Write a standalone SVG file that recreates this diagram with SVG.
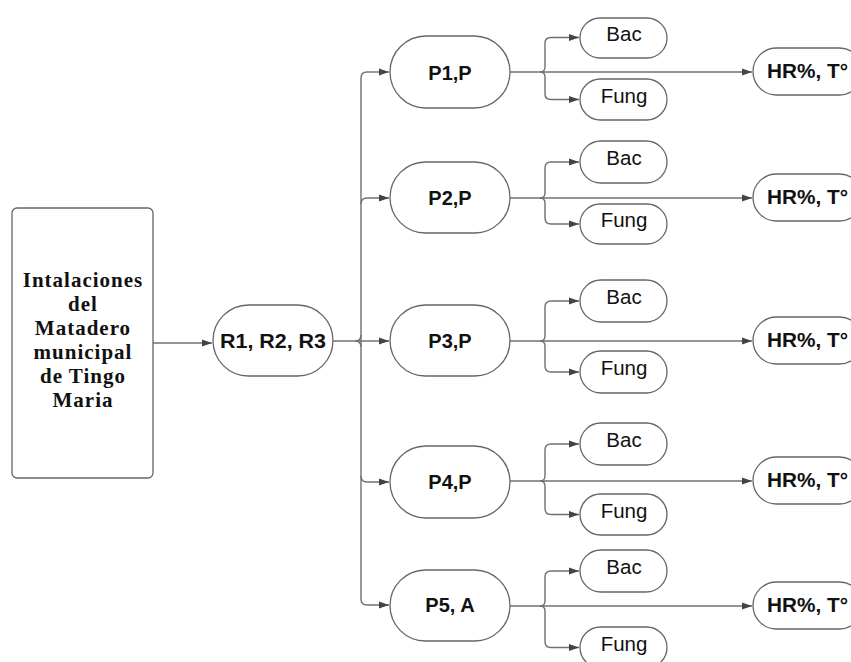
<svg xmlns="http://www.w3.org/2000/svg" width="851" height="662" viewBox="0 0 851 662">
<style>
.n{fill:#fff;stroke:#666;stroke-width:1.3}
.c{fill:none;stroke:#707070;stroke-width:1.4}
.b{font-family:"Liberation Sans",Arial,sans-serif;font-weight:bold;font-size:20px;fill:#111;text-anchor:middle}
.r{font-family:"Liberation Sans",Arial,sans-serif;font-size:20.5px;fill:#111;text-anchor:middle}
.s{font-family:"Liberation Serif","Times New Roman",serif;font-weight:bold;font-size:21px;letter-spacing:1px;fill:#111;text-anchor:middle}
</style>
<defs>
<marker id="a" markerUnits="userSpaceOnUse" markerWidth="11" markerHeight="8" refX="10" refY="4" orient="auto">
<path d="M0,0.5 L10,4 L0,7.5 z" fill="#444"/>
</marker>
</defs>
<g id="connectors">
<path class="c" d="M153,343 H212" marker-end="url(#a)"/>
<path class="c" d="M333,341 H389" marker-end="url(#a)"/>
<path class="c" d="M355,341 Q361,341 361,335 M355,341 Q361,341 361,347"/>
<path class="c" d="M367,72 H389" marker-end="url(#a)"/>
<path class="c" d="M367,72 Q361,72 361,78 V599 Q361,605 367,605 H389" marker-end="url(#a)"/>
<path class="c" d="M361,204 Q361,198 367,198 H389" marker-end="url(#a)"/>
<path class="c" d="M361,476 Q361,482 367,482 H389" marker-end="url(#a)"/>
<!-- row 1 -->
<path class="c" d="M510,72 H752" marker-end="url(#a)"/>
<path class="c" d="M540,72 Q545,72 545,67 V43 Q545,37.5 551,37.5 H579" marker-end="url(#a)"/>
<path class="c" d="M540,72 Q545,72 545,77 V94 Q545,99.5 551,99.5 H579" marker-end="url(#a)"/>
<!-- row 2 -->
<path class="c" d="M510,198 H752" marker-end="url(#a)"/>
<path class="c" d="M540,198 Q545,198 545,193 V168 Q545,162 551,162 H579" marker-end="url(#a)"/>
<path class="c" d="M540,198 Q545,198 545,203 V218 Q545,224 551,224 H579" marker-end="url(#a)"/>
<!-- row 3 -->
<path class="c" d="M510,341 H752" marker-end="url(#a)"/>
<path class="c" d="M540,341 Q545,341 545,336 V307 Q545,301 551,301 H579" marker-end="url(#a)"/>
<path class="c" d="M540,341 Q545,341 545,346 V366 Q545,372 551,372 H579" marker-end="url(#a)"/>
<!-- row 4 -->
<path class="c" d="M510,481 H752" marker-end="url(#a)"/>
<path class="c" d="M540,481 Q545,481 545,476 V450 Q545,444 551,444 H579" marker-end="url(#a)"/>
<path class="c" d="M540,481 Q545,481 545,486 V508.5 Q545,514.5 551,514.5 H579" marker-end="url(#a)"/>
<!-- row 5 -->
<path class="c" d="M510,606 H752" marker-end="url(#a)"/>
<path class="c" d="M540,606 Q545,606 545,601 V577 Q545,571 551,571 H579" marker-end="url(#a)"/>
<path class="c" d="M540,606 Q545,606 545,611 V641.5 Q545,647.5 551,647.5 H579" marker-end="url(#a)"/>
</g>
<g id="box">
<rect class="n" x="12" y="208" width="141" height="270" rx="5"/>
<text class="s" x="83" y="287">Intalaciones</text>
<text class="s" x="83" y="311">del</text>
<text class="s" x="83" y="335">Matadero</text>
<text class="s" x="83" y="359">municipal</text>
<text class="s" x="83" y="383">de Tingo</text>
<text class="s" x="83" y="407">Maria</text>
</g>
<g id="r">
<rect class="n" x="213" y="305" width="120" height="71" rx="35.5"/>
<text class="b" x="273" y="348" textLength="106" lengthAdjust="spacingAndGlyphs">R1, R2, R3</text>
</g>
<g id="p1">
<rect class="n" x="390" y="36" width="120" height="72" rx="36"/>
<text class="b" x="450" y="80">P1,P</text>
</g>
<g id="p2">
<rect class="n" x="390" y="162" width="120" height="71" rx="35.5"/>
<text class="b" x="450" y="205">P2,P</text>
</g>
<g id="p3">
<rect class="n" x="390" y="305" width="120" height="71" rx="35.5"/>
<text class="b" x="450" y="348">P3,P</text>
</g>
<g id="p4">
<rect class="n" x="390" y="446" width="120" height="72" rx="36"/>
<text class="b" x="450" y="489">P4,P</text>
</g>
<g id="p5">
<rect class="n" x="390" y="570" width="120" height="71" rx="35.5"/>
<text class="b" x="450" y="612">P5, A</text>
</g>
<g id="bac1"><rect class="n" x="580" y="18" width="87" height="40" rx="20"/><text class="r" x="624" y="41">Bac</text></g>
<g id="fung1"><rect class="n" x="580" y="79" width="87" height="41" rx="20.5"/><text class="r" x="624" y="103">Fung</text></g>
<g id="bac2"><rect class="n" x="580" y="141" width="87" height="42" rx="21"/><text class="r" x="624" y="165">Bac</text></g>
<g id="fung2"><rect class="n" x="580" y="204" width="87" height="40" rx="20"/><text class="r" x="624" y="227">Fung</text></g>
<g id="bac3"><rect class="n" x="580" y="280" width="87" height="42" rx="21"/><text class="r" x="624" y="304">Bac</text></g>
<g id="fung3"><rect class="n" x="580" y="351" width="87" height="42" rx="21"/><text class="r" x="624" y="375">Fung</text></g>
<g id="bac4"><rect class="n" x="580" y="423" width="87" height="42" rx="21"/><text class="r" x="624" y="447">Bac</text></g>
<g id="fung4"><rect class="n" x="580" y="494" width="87" height="41" rx="20.5"/><text class="r" x="624" y="518">Fung</text></g>
<g id="bac5"><rect class="n" x="580" y="550" width="87" height="42" rx="21"/><text class="r" x="624" y="574">Bac</text></g>
<g id="fung5"><rect class="n" x="580" y="627" width="87" height="41" rx="20.5"/><text class="r" x="624" y="651">Fung</text></g>
<g id="hr1"><rect class="n" x="753" y="48" width="110" height="47" rx="23.5"/><text class="b" x="767" y="78" style="text-anchor:start" textLength="81" lengthAdjust="spacingAndGlyphs">HR%, T°</text></g>
<g id="hr2"><rect class="n" x="753" y="174" width="110" height="47" rx="23.5"/><text class="b" x="767" y="204" style="text-anchor:start" textLength="81" lengthAdjust="spacingAndGlyphs">HR%, T°</text></g>
<g id="hr3"><rect class="n" x="753" y="317" width="110" height="47" rx="23.5"/><text class="b" x="767" y="347" style="text-anchor:start" textLength="81" lengthAdjust="spacingAndGlyphs">HR%, T°</text></g>
<g id="hr4"><rect class="n" x="753" y="457" width="110" height="47" rx="23.5"/><text class="b" x="767" y="487" style="text-anchor:start" textLength="81" lengthAdjust="spacingAndGlyphs">HR%, T°</text></g>
<g id="hr5"><rect class="n" x="753" y="582" width="110" height="47" rx="23.5"/><text class="b" x="767" y="612" style="text-anchor:start" textLength="81" lengthAdjust="spacingAndGlyphs">HR%, T°</text></g>
</svg>
